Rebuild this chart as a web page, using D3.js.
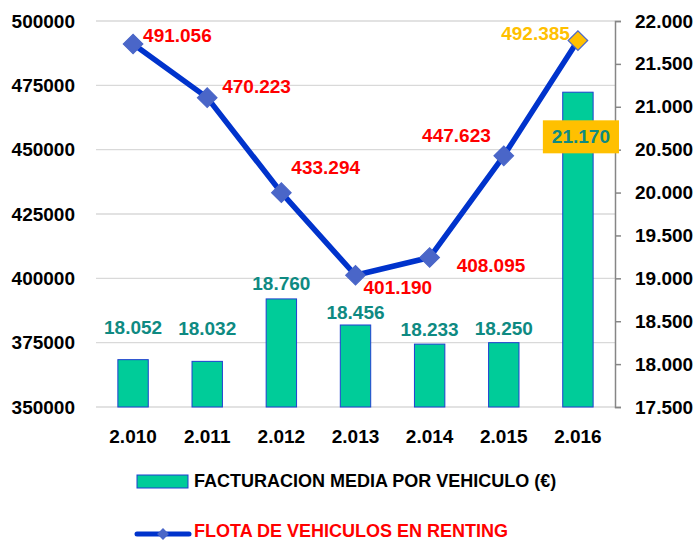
<!DOCTYPE html>
<html>
<head>
<meta charset="utf-8">
<script src="https://cdn.jsdelivr.net/npm/d3@7"></script>
<style>
  body { margin: 0; background: #fff; }
  text { font-family: "Liberation Sans", Arial, sans-serif; font-weight: bold; }
</style>
</head>
<body>
<svg id="chart" width="697" height="541"></svg>
<script>
// data
const years = ["2.010", "2.011", "2.012", "2.013", "2.014", "2.015", "2.016"];
const facturacion = [18052, 18032, 18760, 18456, 18233, 18250, 21170];
const flota = [491056, 470223, 433294, 401190, 408095, 447623, 492385];
const leftTicks = [350000, 375000, 400000, 425000, 450000, 475000, 500000];
const rightTicks = [17500, 18000, 18500, 19000, 19500, 20000, 20500, 21000, 21500, 22000];

// label placement (dx, dy from the point, anchor)
const flotaLabelPos = [
  [10, -9, "start"], [15, -11, "start"], [10, -25, "start"], [8, 12, "start"],
  [27, 8, "start"], [-13, -20, "end"], [-8, -7, "end"]
];
// bar label: offset of label centre above bar top
const barLabelOff = [-32, -33, -16, -13, -15, -14, null];

const es = d3.formatLocale({decimal: ",", thousands: ".", grouping: [3], currency: ["", "€"]});
const fmt = es.format(",d");

const svg = d3.select("#chart");
const plotLeft = 96, plotRight = 615, plotTop = 21, plotBottom = 407;

const x = d3.scaleBand().domain(years).range([plotLeft, plotRight]).paddingInner(0.59).paddingOuter(0.295);
const yL = d3.scaleLinear().domain([350000, 500000]).range([plotBottom, plotTop]);
const yR = d3.scaleLinear().domain([17500, 22000]).range([plotBottom, plotTop]);

// gridlines
svg.append("g")
  .selectAll("line")
  .data(leftTicks)
  .join("line")
  .attr("x1", plotLeft).attr("x2", plotRight)
  .attr("y1", d => yL(d)).attr("y2", d => yL(d))
  .attr("stroke", "#d9d9d9").attr("stroke-width", 1.3);

// left axis labels
svg.append("g")
  .selectAll("text")
  .data(leftTicks)
  .join("text")
  .attr("x", 75).attr("y", d => yL(d))
  .attr("dy", "0.35em")
  .attr("text-anchor", "end")
  .attr("font-size", 19)
  .text(d => d);

// right axis
const rAxis = svg.append("g")
  .attr("transform", `translate(${plotRight},0)`)
  .call(d3.axisRight(yR).tickValues(rightTicks).tickSize(6).tickPadding(14).tickFormat(d => fmt(d)));
rAxis.select(".domain").attr("stroke", "#868686").attr("stroke-width", 1.5);
rAxis.selectAll(".tick line").attr("stroke", "#868686").attr("stroke-width", 1.5);
rAxis.selectAll(".tick text").attr("fill", "#000").attr("font-size", 19)
  .style("font-family", "Liberation Sans, Arial, sans-serif").style("font-weight", "bold");

// bars
svg.append("g")
  .selectAll("rect")
  .data(facturacion)
  .join("rect")
  .attr("x", (d, i) => x(years[i]))
  .attr("width", x.bandwidth())
  .attr("y", d => yR(d))
  .attr("height", d => plotBottom - yR(d))
  .attr("fill", "#00cc99")
  .attr("stroke", "#1f3fd0")
  .attr("stroke-width", 1);

// bar labels
svg.append("g")
  .selectAll("text")
  .data(facturacion)
  .join("text")
  .attr("x", (d, i) => x(years[i]) + x.bandwidth() / 2 + (i === 6 ? 3 : 0))
  .attr("y", (d, i) => i === 6 ? yL(450000) - 13 : yR(d) + barLabelOff[i])
  .attr("dy", "0.35em")
  .attr("text-anchor", "middle")
  .attr("font-size", 19)
  .attr("fill", "#0e8a82")
  .text(d => fmt(d))
  .each(function(d, i) {
    if (i === 6) {
      const b = this.getBBox();
      d3.select(this.parentNode).insert("rect", "text")
        .attr("x", b.x - 9).attr("y", b.y - 6)
        .attr("width", b.width + 18).attr("height", b.height + 12)
        .attr("fill", "#ffc000");
    }
  });

// x labels
svg.append("g")
  .selectAll("text")
  .data(years)
  .join("text")
  .attr("x", d => x(d) + x.bandwidth() / 2)
  .attr("y", 436)
  .attr("dy", "0.35em")
  .attr("text-anchor", "middle")
  .attr("font-size", 19)
  .text(d => d);

// line
const cx = i => x(years[i]) + x.bandwidth() / 2;
const line = d3.line().x((d, i) => cx(i)).y(d => yL(d));
svg.append("path")
  .datum(flota)
  .attr("d", line)
  .attr("fill", "none")
  .attr("stroke", "#0033cc")
  .attr("stroke-width", 5.5)
  .attr("stroke-linejoin", "round");

const diamond = d3.symbol().type(d3.symbolSquare).size(190);
svg.append("g")
  .selectAll("path")
  .data(flota)
  .join("path")
  .attr("d", diamond)
  .attr("transform", (d, i) => `translate(${cx(i)},${yL(d)}) rotate(45)`)
  .attr("fill", (d, i) => i === 6 ? "#ffc000" : "#4a66c8")
  .attr("stroke", "#4a66c8")
  .attr("stroke-width", 1.2);

svg.append("g")
  .selectAll("text")
  .data(flota)
  .join("text")
  .attr("x", (d, i) => cx(i) + flotaLabelPos[i][0])
  .attr("y", (d, i) => yL(d) + flotaLabelPos[i][1])
  .attr("dy", "0.35em")
  .attr("text-anchor", (d, i) => flotaLabelPos[i][2])
  .attr("font-size", 19)
  .attr("fill", (d, i) => i === 6 ? "#ffc000" : "#ff0000")
  .text(d => fmt(d));

// legend
const lg = svg.append("g");
lg.append("rect").attr("x", 137).attr("y", 475).attr("width", 51).attr("height", 13)
  .attr("fill", "#00cc99").attr("stroke", "#1f3fd0").attr("stroke-width", 1);
lg.append("text").attr("x", 194).attr("y", 481).attr("dy", "0.35em")
  .attr("font-size", 18).attr("fill", "#000").text("FACTURACION MEDIA POR VEHICULO (€)");
lg.append("line").attr("x1", 137).attr("x2", 189).attr("y1", 534).attr("y2", 534)
  .attr("stroke", "#0033cc").attr("stroke-width", 5).attr("stroke-linecap", "round");
lg.append("path").attr("d", d3.symbol().type(d3.symbolSquare).size(70))
  .attr("transform", "translate(163,534) rotate(45)").attr("fill", "#4a66c8");
lg.append("text").attr("x", 194).attr("y", 531).attr("dy", "0.35em")
  .attr("font-size", 18).attr("fill", "#ff0000").text("FLOTA DE VEHICULOS EN RENTING");
</script>
</body>
</html>
